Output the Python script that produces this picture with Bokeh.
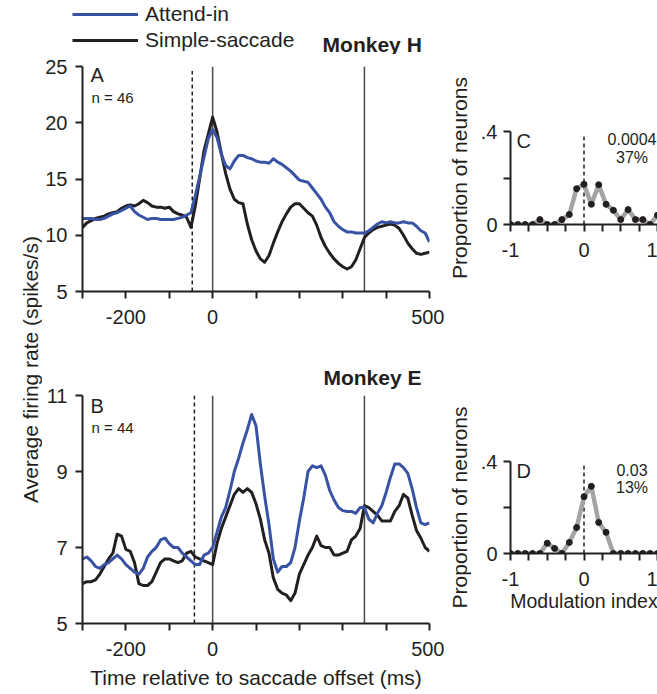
import math
from bokeh.plotting import figure
from bokeh.layouts import row, column
from bokeh.models import FixedTicker, Label, Legend, LegendItem
from bokeh.embed import file_html
from bokeh.resources import INLINE

# ---------------- data ----------------
time_ms = [-300, -290, -280, -270, -260, -250, -240, -230, -220, -210,
           -200, -190, -180, -170, -160, -150, -140, -130, -120, -110,
           -100, -90, -80, -70, -60, -50, -40, -30, -20, -10,
           0, 10, 20, 30, 40, 50, 60, 70, 80, 90,
           100, 110, 120, 130, 140, 150, 160, 170, 180, 190,
           200, 210, 220, 230, 240, 250, 260, 270, 280, 290,
           300, 310, 320, 330, 340, 350, 360, 370, 380, 390,
           400, 410, 420, 430, 440, 450, 460, 470, 480, 490, 500]

# Monkey H (panel A)
h_attend = [11.5, 11.5, 11.5, 11.4, 11.4, 11.5, 11.7, 11.9, 12.0, 12.2,
            12.4, 12.6, 12.1, 11.8, 11.6, 11.4, 11.5, 11.5, 11.4, 11.4,
            11.4, 11.4, 11.5, 11.6, 11.8, 12.0, 13.5, 15.2, 16.9, 18.6,
            19.4, 18.7, 17.2, 16.2, 15.9, 16.6, 17.1, 17.1, 16.9, 16.8,
            16.6, 16.5, 16.5, 16.4, 16.8, 16.5, 16.3, 16.0, 15.7, 15.3,
            14.9, 14.8, 14.7, 14.2, 13.7, 13.2, 12.5, 12.0, 11.2, 10.8,
            10.5, 10.3, 10.3, 10.2, 10.2, 10.2, 10.4, 10.7, 11.0, 11.2,
            11.1, 11.2, 11.1, 11.1, 11.2, 11.1, 11.1, 10.8, 10.4, 10.2, 9.4]
h_simple = [10.7, 11.1, 11.3, 11.5, 11.6, 11.7, 11.9, 12.0, 12.1, 12.4,
            12.6, 12.7, 12.6, 12.8, 13.1, 12.9, 12.6, 12.5, 12.5, 12.4,
            12.5, 12.1, 11.9, 11.8, 11.6, 10.7, 12.6, 15.0, 17.5, 19.0,
            20.5, 19.2, 17.3, 15.5, 14.1, 13.2, 12.9, 12.8, 11.0, 9.6,
            8.6, 7.9, 7.6, 8.2, 9.3, 10.3, 11.2, 11.9, 12.5, 12.8,
            12.8, 12.4, 12.0, 11.7, 10.9, 9.8, 9.0, 8.4, 7.9, 7.5,
            7.2, 7.0, 7.2, 7.8, 8.8, 9.8, 10.2, 10.5, 10.7, 10.8,
            10.9, 11.0, 10.9, 10.6, 10.0, 9.3, 8.8, 8.4, 8.3, 8.4, 8.5]

# Monkey E (panel B)
e_attend = [6.7, 6.75, 6.65, 6.5, 6.45, 6.55, 6.6, 6.7, 6.8, 6.7,
            6.55, 6.45, 6.35, 6.3, 6.45, 6.75, 6.9, 7.0, 7.2, 7.25,
            7.1, 7.0, 7.0, 6.85, 6.75, 6.65, 6.55, 6.55, 6.8, 6.85,
            7.0, 7.4, 7.8, 8.05, 8.5, 9.0, 9.35, 9.75, 10.1, 10.5,
            10.2, 9.2, 8.35, 7.6, 6.7, 6.35, 6.5, 6.5, 6.6, 7.0,
            7.7, 8.3, 9.0, 9.15, 9.1, 9.15, 8.9, 8.5, 8.25, 8.05,
            7.97, 7.95, 7.95, 7.9, 8.05, 8.05, 7.75, 7.65, 7.9, 8.1,
            8.45, 8.85, 9.2, 9.2, 9.1, 8.95, 8.55, 8.05, 7.65, 7.6, 7.65]
e_simple = [6.05, 6.1, 6.1, 6.15, 6.3, 6.5, 6.7, 6.85, 7.35, 7.3,
            6.95, 6.9, 6.6, 6.05, 6.0, 6.0, 6.1, 6.35, 6.6, 6.7,
            6.7, 6.65, 6.6, 6.65, 6.85, 6.9, 6.75, 6.7, 6.65, 6.6,
            6.55, 7.1, 7.5, 7.8, 8.1, 8.4, 8.55, 8.45, 8.55, 8.45,
            8.15, 7.75, 7.2, 6.85, 6.2, 5.9, 5.8, 5.75, 5.6, 5.8,
            6.3, 6.55, 6.8, 7.0, 7.3, 7.05, 7.0, 7.0, 6.8, 6.8,
            6.85, 6.9, 7.2, 7.3, 7.5, 8.1, 8.05, 7.95, 7.85, 7.7,
            7.7, 7.7, 7.95, 8.1, 8.4, 8.3, 7.85, 7.45, 7.25, 7.0, 6.9]

# event markers (ms)
h_onset, e_onset = -47, -42
sacc_offset, window_end = 0, 350

# modulation index histograms (panels C, D)
mod_index = [-1.0, -0.9, -0.8, -0.7, -0.6, -0.5, -0.4, -0.3, -0.2, -0.1,
             0.0, 0.1, 0.2, 0.3, 0.4, 0.5, 0.6, 0.7, 0.8, 0.9, 1.0]
h_prop = [0, 0, 0, 0, 0.021, 0, 0, 0.021, 0.043, 0.154,
          0.173, 0.087, 0.171, 0.087, 0.061, 0.021, 0.064, 0.021, 0.021, 0, 0.04]
e_prop = [0, 0, 0, 0, 0, 0.045, 0.022, 0, 0.048, 0.113,
          0.247, 0.292, 0.135, 0.092, 0, 0, 0, 0, 0, 0, 0]

time_ticks = [-300, -200, -100, 0, 100, 200, 300, 400, 500]
time_labels = ["", "-200", "", "0", "", "", "", "", "500"]
h_yticks = [5, 10, 15, 20, 25]
h_ylabels = ["5", "10", "15", "20", "25"]
e_yticks = [5, 7, 9, 11]
e_ylabels = ["5", "7", "9", "11"]
mi_ticks = [-1.0, -0.75, -0.5, -0.25, 0.0, 0.25, 0.5, 0.75, 1.0]
mi_labels = ["-1", "", "", "", "0", "", "", "", "1"]
prop_ticks = [0.0, 0.2, 0.4]
prop_labels = ["0", "", ".4"]

legend_labels = ["Attend-in", "Simple-saccade"]

# ---------------- style ----------------
FONT = "Liberation Sans"
INK = "#231f20"
BLUE = "#3953a4"
GRAY = "#a4a4a4"
VLINE = "#4a4a4a"


def make_fig(w, h, xr, yr, left, right, top, bottom):
    p = figure(width=w, height=h, x_range=xr, y_range=yr,
               output_backend="svg", toolbar_location=None,
               min_border_left=left, min_border_right=right,
               min_border_top=top, min_border_bottom=bottom)
    p.grid.visible = False
    p.outline_line_color = None
    p.background_fill_color = "white"
    p.border_fill_color = "white"
    return p


def blank_fig(w, h):
    p = figure(width=w, height=h, x_axis_type=None, y_axis_type=None,
               x_range=(0, 1), y_range=(0, 1),
               output_backend="svg", toolbar_location=None,
               min_border_left=0, min_border_right=0, min_border_top=0, min_border_bottom=0)
    p.outline_line_color = None
    p.grid.visible = False
    return p


def style_axes(p, xt, xl, yt, yl):
    for ax in (p.xaxis[0], p.yaxis[0]):
        ax.axis_line_color = INK
        ax.axis_line_width = 2
        ax.major_tick_line_color = INK
        ax.major_tick_line_width = 2
        ax.major_tick_out = 7
        ax.major_tick_in = 0
        ax.minor_tick_line_color = None
        ax.major_label_text_font = FONT
        ax.major_label_text_font_size = "20px"
        ax.major_label_text_color = INK
        ax.axis_label_text_font = FONT
        ax.axis_label_text_font_size = "21px"
        ax.axis_label_text_font_style = "normal"
        ax.axis_label_text_color = INK
    p.xaxis[0].major_label_standoff = 11
    p.yaxis[0].major_label_standoff = 8
    p.xaxis[0].ticker = FixedTicker(ticks=xt)
    p.xaxis[0].major_label_overrides = {float(t): s for t, s in zip(xt, xl)}
    p.yaxis[0].ticker = FixedTicker(ticks=yt)
    p.yaxis[0].major_label_overrides = {float(t): s for t, s in zip(yt, yl)}


def txt(p, x, y, s, size="20px", bold=False, align="left"):
    # y is the vertical centre of the glyphs, in px above the frame bottom
    p.add_layout(Label(x=x, y=y, x_units="screen", y_units="screen", text=s,
                       text_font=FONT, text_font_size=size, text_color=INK,
                       text_font_style="bold" if bold else "normal",
                       text_align=align, text_baseline="middle"))


def events(p, onset, y0, y1, y_dash_top):
    p.segment(x0=[onset], y0=[y0], x1=[onset], y1=[y_dash_top], line_color=INK,
              line_width=1.5, line_dash="4 3")
    p.segment(x0=[sacc_offset, window_end], y0=[y0, y0], x1=[sacc_offset, window_end],
              y1=[y1, y1], line_color=VLINE, line_width=1.5)


# ---------------- header: legend + Monkey H ----------------
head = blank_fig(657, 54)
nan = float("nan")
kb = head.line(x=[nan, nan], y=[nan, nan], line_color=BLUE, line_width=3)
kk = head.line(x=[nan, nan], y=[nan, nan], line_color=INK, line_width=3)
leg = Legend(items=[LegendItem(label=legend_labels[0], renderers=[kb]),
                    LegendItem(label=legend_labels[1], renderers=[kk])],
             location=(72, 1), orientation="vertical", glyph_width=66, glyph_height=26,
             label_height=26, spacing=0, padding=0, margin=0, label_standoff=7,
             border_line_color=None, background_fill_alpha=0,
             label_text_font=FONT, label_text_font_size="21px", label_text_color=INK)
head.add_layout(leg)
txt(head, 371.7, 10.5, "Monkey H", size="21px", bold=True, align="center")

# ---------------- shared y label ----------------
lab = blank_fig(42, 640)
lab.add_layout(Label(x=30, y=325, x_units="screen", y_units="screen",
                     text="Average firing rate (spikes/s)", angle=math.pi / 2,
                     text_font=FONT, text_font_size="21px", text_color=INK,
                     text_align="center", text_baseline="middle"))

# ---------------- panel A ----------------
pa = make_fig(402, 291, (-300, 500), (5, 25), 38, 15, 12, 54)
style_axes(pa, time_ticks, time_labels, h_yticks, h_ylabels)
events(pa, h_onset, 5, 25, 24.6)
pa.line(time_ms, h_simple, line_color=INK, line_width=3, line_join="round")
pa.line(time_ms, h_attend, line_color=BLUE, line_width=3, line_join="round")
txt(pa, 8, 216.5, "A")
txt(pa, 9, 194.5, "n = 46", size="15px")

# ---------------- panel B ----------------
pb = make_fig(402, 349, (-300, 500), (5, 11), 38, 15, 50, 71)
style_axes(pb, time_ticks, time_labels, e_yticks, e_ylabels)
pb.xaxis[0].axis_label = "Time relative to saccade offset (ms)"
pb.xaxis[0].axis_label_standoff = 7
pb.title.text = "Monkey E"
pb.title.text_font = FONT
pb.title.text_font_size = "21px"
pb.title.text_font_style = "bold"
pb.title.text_color = INK
pb.title.align = "right"
pb.title.offset = 8
pb.title.standoff = 13
events(pb, e_onset, 5, 11, 11)
pb.line(time_ms, e_simple, line_color=INK, line_width=3, line_join="round")
pb.line(time_ms, e_attend, line_color=BLUE, line_width=3, line_join="round")
txt(pb, 8, 217.3, "B")
txt(pb, 9, 196.3, "n = 44", size="15px")

# ---------------- panel C ----------------
pc = make_fig(213, 291, (-1, 1), (0, 0.4), 61, 0, 77, 121)
style_axes(pc, mi_ticks, mi_labels, prop_ticks, prop_labels)
pc.yaxis[0].major_label_standoff = 6
pc.yaxis[0].axis_label = "Proportion of neurons"
pc.yaxis[0].axis_label_standoff = 7
pc.segment(x0=[0], y0=[0], x1=[0], y1=[0.39], line_color=INK, line_width=1.5, line_dash="4 3")
pc.line(mod_index, h_prop, line_color=GRAY, line_width=4.5, line_join="round")
pc.scatter(mod_index, h_prop, size=6, color=INK)
txt(pc, 6, 83.5, "C")
txt(pc, 121.5, 85.5, "0.0004", size="16px", align="center")
txt(pc, 121.5, 67.5, "37%", size="16px", align="center")

# ---------------- panel D ----------------
pd_ = make_fig(213, 349, (-1, 1), (0, 0.4), 61, 0, 116, 141)
style_axes(pd_, mi_ticks, mi_labels, prop_ticks, prop_labels)
pd_.yaxis[0].major_label_standoff = 6
pd_.yaxis[0].axis_label = "Proportion of neurons"
pd_.yaxis[0].axis_label_standoff = 7
pd_.xaxis[0].axis_label = "Modulation index"
pd_.xaxis[0].axis_label_text_font_size = "19.5px"
pd_.xaxis[0].axis_label_standoff = 1
pd_.segment(x0=[0], y0=[0], x1=[0], y1=[0.39], line_color=INK, line_width=1.5, line_dash="4 3")
pd_.line(mod_index, e_prop, line_color=GRAY, line_width=4.5, line_join="round")
pd_.scatter(mod_index, e_prop, size=6, color=INK)
txt(pd_, 6, 82.5, "D")
txt(pd_, 121.5, 83.5, "0.03", size="16px", align="center")
txt(pd_, 121.5, 66, "13%", size="16px", align="center")

root = column(head, row(lab, column(pa, pb), column(pc, pd_)))
open("out.html", "w").write(file_html(root, INLINE))
